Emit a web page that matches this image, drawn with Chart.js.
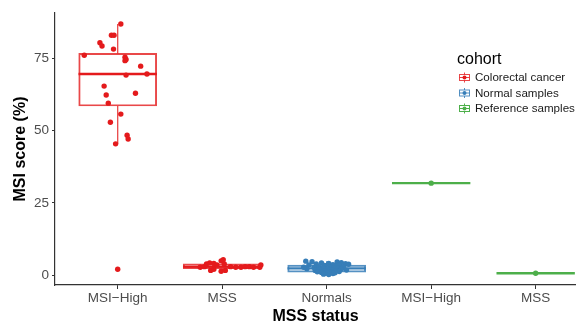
<!DOCTYPE html>
<html>
<head>
<meta charset="utf-8">
<script src="https://cdn.jsdelivr.net/npm/chart.js@4.4.1/dist/chart.umd.min.js"></script>
<style>
  html, body { margin: 0; padding: 0; background: #fff; }
  #wrap { width: 576px; height: 325px; }
</style>
</head>
<body>
<div id="wrap"><canvas id="msiChart" width="576" height="325"></canvas></div>
<script>
// categories on the x axis and the cohort of each group
const categories = ['MSI\u2212High', 'MSS', 'Normals', 'MSI\u2212High', 'MSS'];
const cohorts = ['Colorectal cancer', 'Normal samples', 'Reference samples'];
const groupCohort = [0, 0, 1, 2, 2];
const yTicks = [0, 25, 50, 75];

// box statistics per group
const boxLow = [45.4, 1.2, 0.1, 31.8, 0.6];
const boxQ1 = [58.5, 2.2, 1.0, 31.8, 0.6];
const boxMedian = [69.6, 2.9, 2.3, 31.8, 0.6];
const boxQ3 = [76.7, 3.9, 3.4, 31.8, 0.6];
const boxHigh = [86.9, 5.3, 4.8, 31.8, 0.6];

// jittered samples: value + horizontal jitter (in category units)
const crcMsiHighValues = [86.9, 83.0, 83.0, 80.4, 79.3, 78.2, 76.1, 75.4, 74.6, 74.2, 72.3, 69.6, 69.2, 65.4, 62.9, 62.3, 59.5, 55.7, 52.9, 48.4, 47.1, 45.4, 2.0];
const crcMsiHighJitter = [0.03, -0.06, -0.035, -0.17, -0.15, -0.04, -0.32, 0.07, 0.08, 0.07, 0.22, 0.28, 0.08, -0.13, 0.17, -0.11, -0.09, 0.03, -0.07, 0.09, 0.10, -0.02, 0.0];

const crcMssValues = [2.7, 2.9, 3.8, 4.2, 4.0, 3.5, 4.9, 5.3, 3.8, 1.6, 2.0, 1.3, 1.6, 2.9, 2.7, 2.7, 2.9, 2.9, 2.7, 2.7, 3.5];
const crcMssJitter = [-0.21, -0.17, -0.15, -0.12, -0.08, -0.05, -0.01, 0.01, 0.02, -0.11, -0.08, -0.01, 0.03, 0.08, 0.13, 0.18, 0.22, 0.26, 0.30, 0.36, 0.37];

const normalValues = [4.8, 4.6, 4.5, 4.3, 4.2, 4.0, 3.9, 3.8, 3.6, 3.5, 3.4, 3.3, 3.1, 3.0, 2.9, 2.8, 2.6, 2.5, 2.4, 2.3, 2.2, 2.1, 2.0, 1.9, 1.8, 1.6, 1.5, 1.4, 1.2, 1.1, 1.0, 0.9, 0.8, 0.6, 0.5, 0.3, 0.2, 3.7, 1.7, 2.7];
const normalJitter = [-0.20, -0.14, 0.10, 0.14, -0.05, 0.02, 0.18, -0.10, 0.06, -0.17, 0.12, -0.02, 0.09, -0.08, 0.16, 0.03, -0.12, 0.07, -0.04, 0.11, -0.19, 0.01, 0.14, -0.07, 0.05, -0.11, 0.09, -0.02, 0.12, -0.09, 0.04, -0.05, 0.08, -0.01, 0.06, -0.03, 0.02, 0.21, 0.19, -0.22];

const refMsiHighValues = [31.8];
const refMssValues = [0.6];

const cohortColors = ['#E41A1C', '#377EB8', '#4DAF4A'];
const cohortBoxColors = ['rgba(228,26,28,0.8)', 'rgba(55,126,184,0.85)', 'rgba(77,175,74,1)'];

function jitterPoints(group, values, jitter) {
    return values.map((v, i) => ({ x: group + (jitter ? jitter[i] : 0), y: v }));
}

const pointSets = [
    jitterPoints(0, crcMsiHighValues, crcMsiHighJitter).concat(jitterPoints(1, crcMssValues, crcMssJitter)),
    jitterPoints(2, normalValues, normalJitter),
    jitterPoints(3, refMsiHighValues).concat(jitterPoints(4, refMssValues))
];

const datasets = [];
cohorts.forEach((name, c) => {
    const groups = groupCohort.map((g, i) => g === c ? i : -1).filter(i => i >= 0);

    // box (q1..q3) as floating bars
    datasets.push({
        type: 'bar',
        data: groups.filter(i => boxQ3[i] > boxQ1[i]).map(i => ({ x: i, y: [boxQ1[i], boxQ3[i]] })),
        backgroundColor: 'rgba(255,255,255,0)',
        borderColor: cohortBoxColors[c],
        borderWidth: 1.3,
        borderSkipped: false,
        barThickness: 78,
        grouped: false,
        order: 3
    });

    // whiskers
    const whisk = [];
    groups.forEach(i => {
        whisk.push({ x: i, y: boxQ3[i] }, { x: i, y: boxHigh[i] }, { x: i, y: null });
        whisk.push({ x: i, y: boxQ1[i] }, { x: i, y: boxLow[i] }, { x: i, y: null });
    });
    datasets.push({
        type: 'scatter',
        data: whisk,
        showLine: true,
        spanGaps: false,
        borderColor: cohortBoxColors[c],
        borderWidth: 1.3,
        pointRadius: 0,
        order: 2
    });

    // medians
    const med = [];
    groups.forEach(i => {
        med.push({ x: i - 0.375, y: boxMedian[i] }, { x: i + 0.375, y: boxMedian[i] }, { x: i, y: null });
    });
    datasets.push({
        type: 'scatter',
        data: med,
        showLine: true,
        spanGaps: false,
        borderColor: cohortColors[c],
        borderWidth: 2.4,
        pointRadius: 0,
        order: 2
    });

    // samples
    datasets.push({
        type: 'scatter',
        label: name,
        data: pointSets[c],
        backgroundColor: cohortColors[c],
        borderWidth: 0,
        pointRadius: 2.7,
        order: 1
    });
});

// legend drawn like the ggplot key
const cohortLegend = {
    id: 'cohortLegend',
    afterDraw(chart) {
        const ctx = chart.ctx;
        ctx.save();
        ctx.fillStyle = '#000';
        ctx.font = '16px "Liberation Sans", Arial, sans-serif';
        ctx.textBaseline = 'middle';
        ctx.fillText('cohort', 457, 60);
        ctx.font = '11.6px "Liberation Sans", Arial, sans-serif';
        cohorts.forEach((name, c) => {
            const y = 77.5 + c * 15.5;
            const x0 = 459, w = 10;
            ctx.strokeStyle = cohortBoxColors[c];
            ctx.lineWidth = 1;
            ctx.strokeRect(x0 + 0.5, y - 3, w, 6);
            ctx.beginPath();
            ctx.moveTo(x0 + 0.5, y); ctx.lineTo(x0 + w + 0.5, y);
            ctx.moveTo(x0 + w / 2 + 0.5, y - 5); ctx.lineTo(x0 + w / 2 + 0.5, y - 3);
            ctx.moveTo(x0 + w / 2 + 0.5, y + 3); ctx.lineTo(x0 + w / 2 + 0.5, y + 5);
            ctx.stroke();
            ctx.fillStyle = cohortColors[c];
            ctx.beginPath();
            ctx.arc(x0 + w / 2 + 0.5, y, 2, 0, Math.PI * 2);
            ctx.fill();
            ctx.fillStyle = '#1a1a1a';
            ctx.fillText(name, 475, y + 0.5);
        });
        ctx.restore();
    }
};

const tickFont = { family: '"Liberation Sans", Arial, sans-serif', size: 13.5 };
const titleFont = { family: '"Liberation Sans", Arial, sans-serif', size: 16, weight: 'bold' };

new Chart(document.getElementById('msiChart').getContext('2d'), {
    type: 'scatter',
    data: { datasets },
    options: {
        responsive: false,
        animation: false,
        devicePixelRatio: 1,
        layout: { autoPadding: false, padding: { top: 13, right: 0, left: 0, bottom: 0 } },
        plugins: {
            legend: { display: false },
            tooltip: { enabled: false }
        },
        scales: {
            x: {
                type: 'linear',
                min: -0.6,
                max: 4.386,
                offset: false,
                grid: { drawOnChartArea: false, offset: false, color: '#333', tickLength: 4 },
                border: { color: '#333', width: 1.2 },
                afterBuildTicks: scale => { scale.ticks = categories.map((_, i) => ({ value: i })); },
                afterFit: scale => { scale.height = 40; },
                ticks: {
                    color: '#4D4D4D',
                    font: tickFont,
                    padding: 1,
                    maxRotation: 0,
                    autoSkip: false,
                    callback: v => categories[v]
                },
                title: { display: true, text: 'MSS status', color: '#000', font: { ...titleFont, lineHeight: 1 }, padding: { top: 0, bottom: 0 } }
            },
            y: {
                type: 'linear',
                min: -3.46,
                max: 90.7,
                beginAtZero: false,
                grid: { drawOnChartArea: false, color: '#333', tickLength: 3 },
                border: { color: '#333', width: 1.2 },
                afterBuildTicks: scale => { scale.ticks = yTicks.map(v => ({ value: v })); },
                afterFit: scale => { scale.width = 55; },
                ticks: { color: '#4D4D4D', font: tickFont, padding: 3 },
                title: { display: true, text: 'MSI score (%)', color: '#000', font: titleFont, padding: { top: 11, bottom: 0 } }
            }
        }
    },
    plugins: [cohortLegend]
});
</script>
</body>
</html>
